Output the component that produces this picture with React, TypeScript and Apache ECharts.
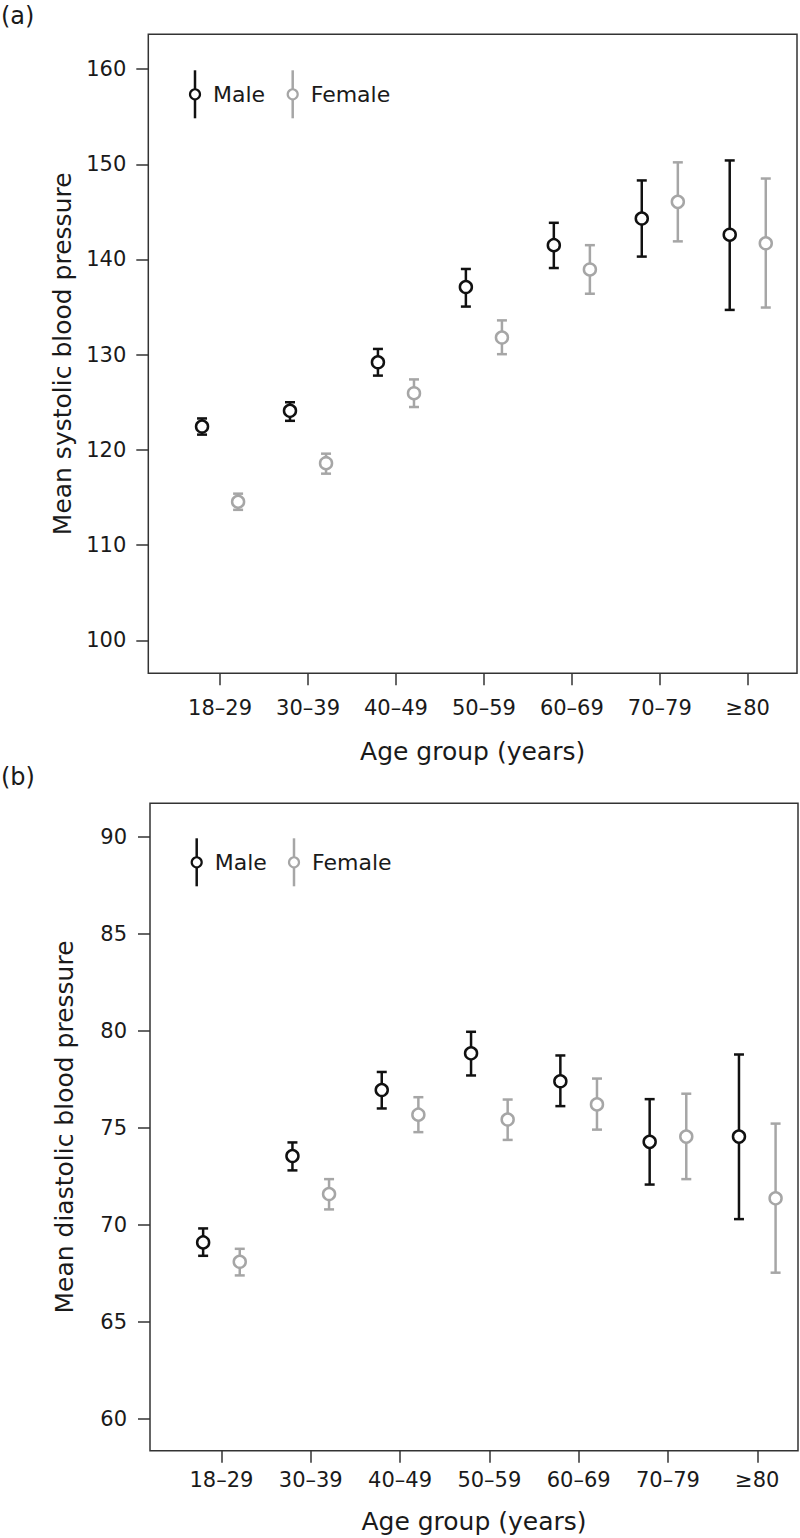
import React, { useEffect, useRef } from "react";
import * as echarts from "echarts";

const categories = ["18–29", "30–39", "40–49", "50–59", "60–69", "70–79", "≥80"];
const catPositions = [1, 2, 3, 4, 5, 6, 7];

const sysTicks = [100, 110, 120, 130, 140, 150, 160];
const diaTicks = [60, 65, 70, 75, 80, 85, 90];

const sysMaleMean = [122.45, 124.1, 129.2, 137.1, 141.5, 144.3, 142.6];
const sysMaleLow = [121.6, 123.05, 127.8, 135.05, 139.1, 140.3, 134.7];
const sysMaleHigh = [123.3, 125.0, 130.6, 139.0, 143.85, 148.3, 150.4];
const sysFemaleMean = [114.55, 118.6, 125.95, 131.8, 138.95, 146.05, 141.7];
const sysFemaleLow = [113.7, 117.5, 124.5, 130.05, 136.4, 141.9, 134.95];
const sysFemaleHigh = [115.4, 119.6, 127.4, 133.6, 141.5, 150.2, 148.5];

const diaMaleMean = [69.1, 73.55, 76.95, 78.84, 77.4, 74.28, 74.55];
const diaMaleLow = [68.41, 72.81, 76.0, 77.7, 76.12, 72.08, 70.3];
const diaMaleHigh = [69.82, 74.25, 77.88, 79.95, 78.73, 76.48, 78.78];
const diaFemaleMean = [68.1, 71.59, 75.68, 75.43, 76.21, 74.55, 71.37];
const diaFemaleLow = [67.4, 70.8, 74.78, 74.38, 74.91, 72.36, 67.54];
const diaFemaleHigh = [68.77, 72.36, 76.58, 76.46, 77.54, 76.76, 75.22];

const FONT = "DejaVu Sans";
const MALE = "#111111";
const FEMALE = "#a6a6a6";
const TEXT = "#1a1a1a";
const AXIS = "#333333";
const OFF = 0.205;

function errSeries(name: string, xi: number, yi: number, low: number[], high: number[], shift: number, color: string) {
  return {
    type: "custom",
    name,
    xAxisIndex: xi,
    yAxisIndex: yi,
    z: 2,
    silent: true,
    encode: { x: 0, y: [1, 2] },
    data: catPositions.map((p, i) => [p + shift, low[i], high[i]]),
    renderItem: (params: any, api: any) => {
      const x = api.value(0);
      const a = api.coord([x, api.value(1)]);
      const b = api.coord([x, api.value(2)]);
      const w = 5;
      const st = { stroke: color, lineWidth: 2.5, fill: "none" };
      return {
        type: "group",
        children: [
          { type: "line", shape: { x1: a[0], y1: a[1], x2: b[0], y2: b[1] }, style: st },
          { type: "line", shape: { x1: a[0] - w, y1: a[1], x2: a[0] + w, y2: a[1] }, style: st },
          { type: "line", shape: { x1: b[0] - w, y1: b[1], x2: b[0] + w, y2: b[1] }, style: st },
        ],
      };
    },
  };
}

function pointSeries(name: string, xi: number, yi: number, mean: number[], shift: number, color: string) {
  return {
    type: "scatter",
    name,
    xAxisIndex: xi,
    yAxisIndex: yi,
    z: 3,
    symbol: "circle",
    symbolSize: 12,
    itemStyle: { color: "#ffffff", borderColor: color, borderWidth: 2.5, opacity: 1 },
    data: catPositions.map((p, i) => [p + shift, mean[i]]),
  };
}

function xAxisCfg(gridIndex: number, min: number, max: number, labelMargin: number, nameGap: number) {
  return {
    type: "value",
    gridIndex,
    min,
    max,
    axisLine: { show: false },
    splitLine: { show: false },
    axisTick: { show: true, length: 12, customValues: catPositions, lineStyle: { color: AXIS, width: 1.5 } },
    axisLabel: {
      customValues: catPositions,
      formatter: (v: number) => categories[Math.round(v) - 1] ?? "",
      margin: labelMargin,
      fontSize: 21,
      fontFamily: FONT,
      color: TEXT,
    },
    name: "Age group (years)",
    nameLocation: "middle",
    nameGap,
    nameTextStyle: { fontSize: 25, fontFamily: FONT, color: TEXT },
  };
}

function yAxisCfg(gridIndex: number, min: number, max: number, ticks: number[], name: string, labelMargin: number) {
  return {
    type: "value",
    gridIndex,
    min,
    max,
    axisLine: { show: false },
    splitLine: { show: false },
    axisTick: { show: true, length: 12, customValues: ticks, lineStyle: { color: AXIS, width: 1.5 } },
    axisLabel: {
      customValues: ticks,
      margin: labelMargin,
      fontSize: 21,
      fontFamily: FONT,
      color: TEXT,
    },
    name,
    nameLocation: "middle",
    nameGap: 73,
    nameRotate: 90,
    nameTextStyle: { fontSize: 25, fontFamily: FONT, color: TEXT },
  };
}

function legendGroup(x: number, y: number, femaleX: number) {
  const item = (cx: number, color: string, label: string) => [
    { type: "line", shape: { x1: cx, y1: y - 24, x2: cx, y2: y + 24 }, style: { stroke: color, lineWidth: 2.5 } },
    { type: "circle", shape: { cx, cy: y, r: 5 }, style: { fill: "#ffffff", stroke: color, lineWidth: 2.2 } },
    {
      type: "text",
      x: cx + 18,
      y,
      style: { text: label, fontSize: 22, fontFamily: FONT, fill: TEXT, verticalAlign: "middle", align: "left" },
    },
  ];
  return { type: "group", children: [...item(x, MALE, "Male"), ...item(femaleX, FEMALE, "Female")] };
}

export default function App() {
  const ref = useRef<HTMLDivElement>(null);
  useEffect(() => {
    if (!ref.current) return;
    const chart = echarts.init(ref.current, undefined, { renderer: "svg" });
    const option: any = {
      animation: false,
      backgroundColor: "#ffffff",
      grid: [
        { left: 148.3, top: 34.3, width: 648.7, height: 639, show: true, borderColor: AXIS, borderWidth: 1.5 },
        { left: 150, top: 803.3, width: 648, height: 647.4, show: true, borderColor: AXIS, borderWidth: 1.5 },
      ],
      xAxis: [xAxisCfg(0, 0.184, 7.56, 24, 66), xAxisCfg(1, 0.2, 7.456, 19, 58)],
      yAxis: [
        yAxisCfg(0, 96.53, 163.65, sysTicks, "Mean systolic blood pressure", 22),
        yAxisCfg(1, 58.37, 91.72, diaTicks, "Mean diastolic blood pressure", 23),
      ],
      series: [
        errSeries("Male", 0, 0, sysMaleLow, sysMaleHigh, -OFF, MALE),
        errSeries("Female", 0, 0, sysFemaleLow, sysFemaleHigh, OFF, FEMALE),
        pointSeries("Male", 0, 0, sysMaleMean, -OFF, MALE),
        pointSeries("Female", 0, 0, sysFemaleMean, OFF, FEMALE),
        errSeries("Male", 1, 1, diaMaleLow, diaMaleHigh, -OFF, MALE),
        errSeries("Female", 1, 1, diaFemaleLow, diaFemaleHigh, OFF, FEMALE),
        pointSeries("Male", 1, 1, diaMaleMean, -OFF, MALE),
        pointSeries("Female", 1, 1, diaFemaleMean, OFF, FEMALE),
      ],
      graphic: [
        { type: "text", x: 1, y: 16, style: { text: "(a)", fontSize: 24, fontFamily: FONT, fill: TEXT, verticalAlign: "middle" } },
        { type: "text", x: 1, y: 777, style: { text: "(b)", fontSize: 24, fontFamily: FONT, fill: TEXT, verticalAlign: "middle" } },
        legendGroup(195, 94.3, 292.7),
        legendGroup(196.7, 862.3, 294),
      ],
    };
    chart.setOption(option);
    return () => chart.dispose();
  }, []);
  return (
    <div
      ref={ref}
      style={{ position: "absolute", left: 0, top: 0, width: 800, height: 1538, background: "#fff" }}
    />
  );
}
